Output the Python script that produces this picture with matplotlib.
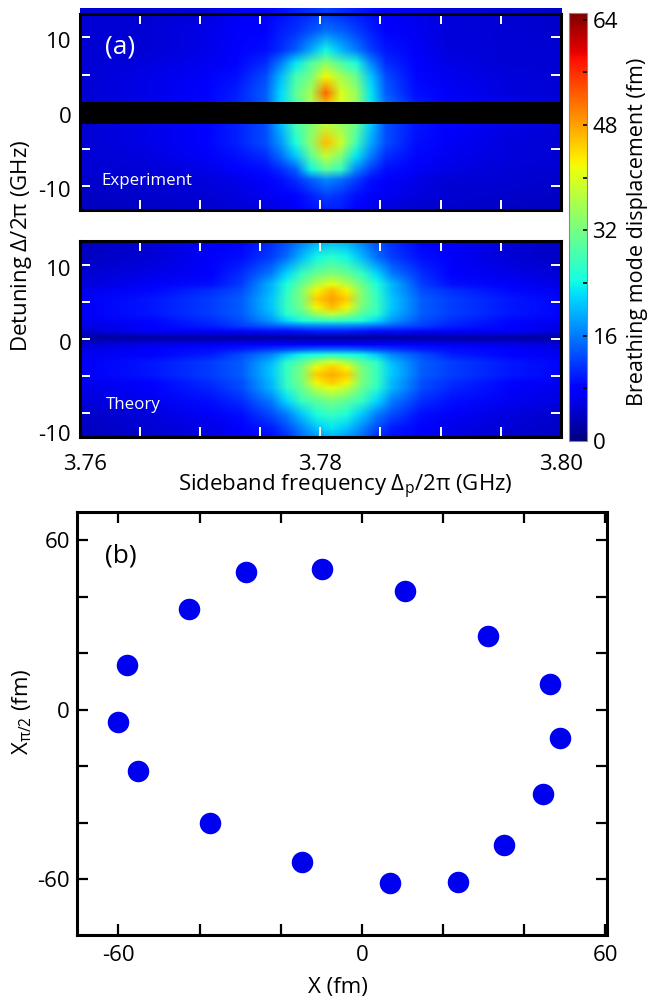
import numpy as np
import matplotlib
matplotlib.use("Agg")
import matplotlib.pyplot as plt
from matplotlib.colors import Normalize
from matplotlib.image import NonUniformImage
from matplotlib.transforms import ScaledTranslation

plt.rcParams['font.family'] = ['Open Sans', 'DejaVu Sans']
plt.rcParams['mathtext.fontset'] = 'custom'
plt.rcParams['mathtext.rm'] = 'Open Sans'
plt.rcParams['mathtext.it'] = 'Open Sans'
plt.rcParams['mathtext.default'] = 'regular'
plt.rcParams['axes.unicode_minus'] = False

W, H = 649, 1000

# ---- data ----
# sideband frequency of each table column, GHz
exp_sideband = [3.7804 + d for d in (-0.0199, -0.0150, -0.0100, -0.0075, -0.0050, -0.00375, -0.0025, -0.00125, 0,
                                     0.00125, 0.0025, 0.00375, 0.0050, 0.0075, 0.0100, 0.0150, 0.0199)]
exp_detuning = [13.2, 11, 8.3, 6.5, 4.7, 2.5, 1.5, -1.8, -4.2, -6, -7.8, -9.2, -11.4, -13.2]
experiment = [
    [5, 5, 5.5, 7, 8, 9, 10, 11, 12, 11, 10, 9, 8, 6.5, 5.5, 5, 4.5],
    [5, 5, 6, 7, 8, 10, 11, 13, 15, 14, 12, 10, 8, 6.5, 5.5, 5, 4.5],
    [5, 5, 6, 7.5, 9, 11, 14, 19, 24, 20, 16, 12, 9.5, 7, 5.5, 5, 5],
    [5, 5.5, 6.5, 8, 11, 16, 23, 29, 34, 29, 25, 17, 11, 8, 6, 5, 5],
    [5, 6, 7, 9, 13, 20, 28, 32, 42, 36, 31, 21, 13, 8.5, 6.5, 5.5, 5],
    [5, 6, 8, 10, 14, 22, 30, 36, 52, 40, 35, 23, 14, 9, 7, 5.5, 5],
    [5, 6, 8, 10, 14, 22, 29, 36, 48, 40, 35, 23, 15, 9.5, 7, 6, 5],
    [5, 6, 8, 10, 13, 20, 28, 33, 38, 35, 31, 21, 13, 9.5, 7.5, 6, 5],
    [5, 6, 8, 10, 13, 18, 25, 34, 46, 39, 28, 19, 13, 9, 7, 5.5, 5],
    [5, 5.5, 7, 9, 11, 15, 21, 30, 38, 33, 23, 16, 11, 8.5, 6.5, 5.5, 5],
    [5, 5, 6, 7.5, 9, 11, 14, 24, 30, 27, 17, 12, 9, 7, 6, 5, 5],
    [4.5, 5, 5.5, 6, 8, 9, 11, 14, 17, 15, 12, 9, 8, 6, 5, 5, 4.5],
    [4, 4.5, 5, 5.5, 6.5, 7, 8, 10, 12, 11, 9, 7.5, 6.5, 5.5, 5, 4.5, 4],
    [4, 4, 4.5, 5, 5.5, 6, 7, 9, 10, 10, 8, 6.5, 5.5, 4.5, 4.5, 4, 4],
]
# theory table is mirror-symmetric in frequency: half rows from the centre outward
th_centre = 3.7809
th_offsets = [0, 0.00125, 0.0025, 0.00375, 0.0050, 0.0075, 0.0100, 0.0150, 0.0199]
th_detuning = [13.2, 11, 8.7, 7.3, 6.5, 5.3, 4.2, 3.3, 2.4, 1.7, 1.0, 0.1, -0.8, -1.5, -2.2, -3.2, -3.9, -4.9, -6.0, -6.6, -8.4, -10.2, -12, -13.2]
theory_half = [
    [20, 19, 16, 13, 11, 8, 7, 5, 4],
    [26, 24, 20, 15, 12, 9, 7, 5, 4],
    [33, 31, 27, 22, 16, 11, 8, 6, 5],
    [41, 37, 31, 25, 20, 12, 9, 7, 5.5],
    [46, 42, 33, 26, 20, 13, 11, 8.5, 6.5],
    [48, 45, 33, 27, 21, 14, 12, 9.5, 7],
    [46, 42, 32, 27, 21, 14, 12, 9.5, 7],
    [38, 35, 29, 26, 20, 14, 12, 9.5, 7],
    [27, 26, 25, 22, 18, 13, 11, 8.5, 6.5],
    [17, 17, 16, 15, 14, 12, 10, 8, 6],
    [10, 10, 9.5, 9, 9, 8.5, 8, 7, 5],
    [2, 2, 2, 2, 2, 2, 2, 2, 2],
    [8, 8, 8, 8, 7.5, 7, 6.5, 6, 5],
    [15, 15, 14, 13, 12, 10, 9, 7.5, 6],
    [26, 25, 24, 21, 17, 13, 10, 8, 6.5],
    [40, 36, 30, 26, 20, 14, 12, 9.5, 7],
    [45, 42, 32, 27, 21, 14, 12, 9.5, 7],
    [47, 45, 33, 27, 21, 14, 12, 9.5, 7],
    [45, 42, 32, 27, 20, 13, 11, 8, 6.5],
    [41, 38, 31, 26, 20, 13, 10.5, 7.5, 6],
    [32, 30, 27, 22, 16, 11, 9, 6.5, 5.5],
    [27, 25, 21, 16, 13, 9, 7, 5.5, 4.5],
    [23, 21, 17, 13, 10, 8, 6, 5, 4],
    [20, 18, 15, 11, 9, 7, 6, 4.5, 4],
]
masked_band = (-1.68, 1.27)
quad_x = [-60.1, -57.9, -55.2, -42.6, -28.6, -37.4, -14.8, -9.9, 6.9, 10.6, 23.6, 31.0, 35.0, 44.6, 46.3, 48.8]
quad_y = [-4.2, 15.9, -21.6, 35.7, 48.8, -40.0, -53.8, 49.9, -61.4, 42.1, -61.1, 26.2, -47.8, -29.7, 9.2, -9.9]

sb_major = [3.76, 3.78, 3.80]
sb_major_labels = ['3.76', '3.78', '3.80']
sb_minor = [3.765, 3.77, 3.775, 3.785, 3.79, 3.795]
cb_major = [0, 16, 32, 48, 64]
cb_minor = [8, 24, 40, 56]
b_ticks_x = [-60, -40, -20, 0, 20, 40, 60]
b_ticks_y = [-60, -40, -20, 0, 20, 40, 60]

fig = plt.figure(figsize=(W / 100, H / 100), dpi=100)


def axpx(x0, y0, x1, y1):
    return fig.add_axes([x0 / W, 1 - y1 / H, (x1 - x0) / W, (y1 - y0) / H])


def txt(x, y, s, **kw):
    kw.setdefault('ha', 'center')
    kw.setdefault('va', 'center')
    return fig.text(x / W, 1 - y / H, s, **kw)


FS = 16
norm = Normalize(0, 65)
down3 = ScaledTranslation(0, -3 / 100, fig.dpi_scale_trans)


def add_map(ax, xs, ys, table, ylim):
    """ys are listed from top to bottom, as in the tables."""
    ys_up = np.array(ys, dtype=float)[::-1]
    arr = np.array(table, dtype=float)[::-1]
    im = NonUniformImage(ax, cmap='jet', norm=norm, interpolation='bilinear')
    im.set_data(np.array(xs, dtype=float), ys_up, arr)
    ax.add_image(im)
    ax.set_xlim(3.76, 3.80)
    ax.set_ylim(*ylim)
    return im


def style_map(ax):
    ax.set_xticks(sb_major)
    ax.set_xticks(sb_minor, minor=True)
    ax.tick_params(axis='both', which='both', direction='in', color='white', length=7.5, width=1.4,
                   top=True, bottom=True, left=True, right=True, labelcolor='black', labelsize=FS)
    ax.tick_params(axis='y', which='both', pad=6)
    ax.tick_params(axis='x', which='both', pad=12)
    for s in ax.spines.values():
        s.set_linewidth(2.2)


# ---- thin strip of the experiment map that shows above the frame ----
ax0 = axpx(79.5, 10.3, 561, 13.5)
add_map(ax0, exp_sideband, [1, 0], [experiment[0], experiment[0]], (0, 1))
ax0.axis('off')

# ---- (a) experiment ----
ax1 = axpx(79.5, 13.5, 561, 210)
im = add_map(ax1, exp_sideband, exp_detuning, experiment, (-13.2, 13.2))
style_map(ax1)
ax1.axhspan(*masked_band, color='black', lw=0, zorder=2)
ax1.set_yticks([-10, 0, 10])
ax1.set_yticks([-5, 5], minor=True)
ax1.set_xticklabels([])
for lab in ax1.get_yticklabels():
    lab.set_transform(lab.get_transform() + down3)
txt(120, 47, '(a)', color='white', fontsize=19)
txt(146.5, 181, 'Experiment', color='white', fontsize=12.2)

# ---- theory ----
ax2 = axpx(79.5, 241, 561, 437)
th_xs = [th_centre - d for d in th_offsets[:0:-1]] + [th_centre + d for d in th_offsets]
theory = [row[:0:-1] + row for row in theory_half]
add_map(ax2, th_xs, th_detuning, theory, (-13.2, 13.2))
style_map(ax2)
ax2.set_yticks([10, 0, -12.6])
ax2.set_yticklabels(['10', '0', '-10'])
ax2.set_yticks([5, -5, -10], minor=True)
t = ax2.yaxis.get_major_ticks()[2]
t.tick1line.set_visible(False)
t.tick2line.set_visible(False)
for lab in ax2.get_yticklabels()[:2]:
    lab.set_transform(lab.get_transform() + down3)
ax2.set_xticklabels(sb_major_labels)
lab = ax2.get_xticklabels()[0]
lab.set_transform(lab.get_transform() + ScaledTranslation(6 / 100, 0, fig.dpi_scale_trans))
txt(133.5, 405, 'Theory', color='white', fontsize=12.2)
txt(345, 487, r'Sideband frequency $\Delta_p/2\pi$ (GHz)', fontsize=FS)
txt(22, 246, r'Detuning $\Delta/2\pi$ (GHz)', fontsize=FS, rotation=90)

# ---- colour bar ----
cax = axpx(569, 13, 587, 441)
cb = fig.colorbar(im, cax=cax)
cb.set_ticks(cb_major)
cb.ax.set_yticks(cb_minor, minor=True)
cax.tick_params(axis='y', which='both', direction='in', color='black', length=3, width=1.2,
                labelsize=FS, pad=4, left=False, right=True)
cb.outline.set_edgecolor('#888888')
cb.outline.set_linewidth(0.8)
txt(637, 232, 'Breathing mode displacement (fm)', fontsize=15.5, rotation=90)

# ---- (b) ----
ax3 = axpx(77, 512, 607, 935)
ax3.plot(quad_x, quad_y, 'o', color='#0000f0', ms=15.5, mew=0)
ax3.set_xlim(-70.2, 60.4)
ax3.set_ylim(-79.7, 70.0)
ax3.set_xticks(b_ticks_x)
ax3.set_xticklabels(['-60', '', '', '0', '', '', '60'])
ax3.set_yticks(b_ticks_y)
ax3.set_yticklabels(['-60', '', '', '0', '', '', '60'])
ax3.tick_params(axis='both', direction='in', length=8, width=1.6, top=True, right=True, labelsize=FS)
ax3.tick_params(axis='x', pad=7)
ax3.tick_params(axis='y', pad=5)
for s in ax3.spines.values():
    s.set_linewidth(2.2)
txt(121, 556, '(b)', fontsize=19)
txt(338, 987, 'X (fm)', fontsize=FS)
txt(22, 712, r'$X_{\pi/2}$ (fm)', fontsize=FS, rotation=90)

fig.savefig('out.png', dpi=100)
